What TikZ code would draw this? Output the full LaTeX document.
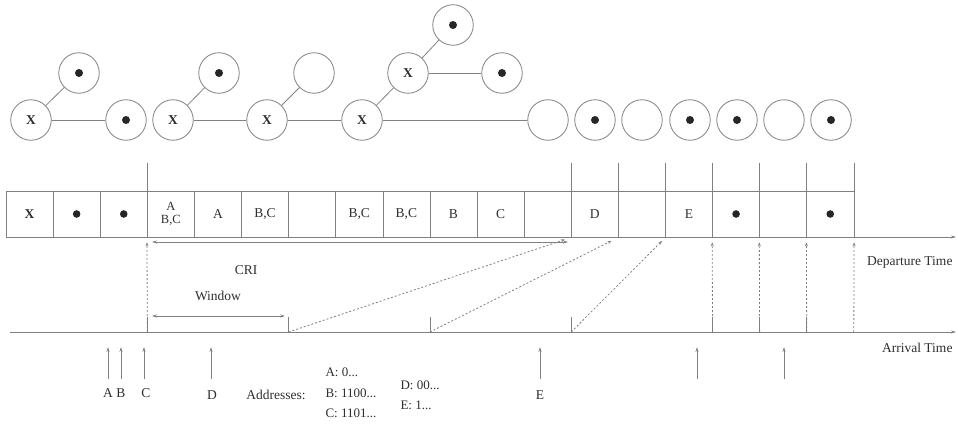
\documentclass[tikz,border=0pt]{standalone}
\usepackage{fontspec}
\setmainfont{Liberation Serif}
\usetikzlibrary{arrows.meta}
\definecolor{ln}{gray}{0.5}
\definecolor{ink}{gray}{0.18}
\begin{document}
\begin{tikzpicture}[x=1pt,y=-1pt,
  every node/.style={text=ink, font=\fontsize{13.5}{15}\selectfont},
  nd/.style={circle, draw=ln, line width=0.8pt, minimum size=40.5pt, inner sep=0pt},
  dotnd/.style={nd, path picture={\fill[black!85] (path picture bounding box.center) circle (4pt);}},
  xnd/.style={nd, font=\fontsize{13.5}{15}\selectfont\bfseries},
  edge/.style={draw=ln, line width=0.8pt},
  cell/.style={draw=ln, line width=0.6pt, minimum width=47.1pt, minimum height=46pt, inner sep=0pt},
  celldot/.style={cell, path picture={\fill[black!85] (path picture bounding box.center) circle (3.8pt);}},
  addr/.style={anchor=west, font=\fontsize{13}{15}\selectfont},
  axis/.style={draw=ln, line width=0.7pt, -{Stealth[length=5pt,width=3pt]}},
  tick/.style={draw=ln, line width=0.7pt},
  dotarrow/.style={draw=ln, line width=0.8pt, dash pattern=on 2pt off 2pt, -{Stealth[length=4pt,width=3pt]}, shorten >=5pt},
  solidarrow/.style={draw=ln, line width=0.8pt, -{Stealth[length=5pt,width=3pt]}},
  span/.style={draw=ln, line width=0.8pt, {Stealth[length=5pt,width=3pt]}-{Stealth[length=5pt,width=3pt]}},
]
\useasboundingbox (0,0) rectangle (958,423);

% ---------- trees of the splitting process ----------
\node[xnd]   (t1x)  at (31,120)  {X};
\node[dotnd] (t1a)  at (79,73)   {};
\node[dotnd] (t1b)  at (126,120) {};
\draw[edge] (t1x) -- (t1a);
\draw[edge] (t1x) -- (t1b);

\node[xnd]   (t2x)  at (173,120) {X};
\node[dotnd] (t2a)  at (219,73)  {};
\node[xnd]   (t3x)  at (267,120) {X};
\node[nd]    (t3a)  at (314,73)  {};
\node[xnd]   (t4x)  at (362,120) {X};
\node[xnd]   (t5x)  at (408,73)  {X};
\node[dotnd] (t5a)  at (453,25)  {};
\node[dotnd] (t5b)  at (502,73)  {};
\draw[edge] (t2x) -- (t2a);
\draw[edge] (t2x) -- (t3x);
\draw[edge] (t3x) -- (t3a);
\draw[edge] (t3x) -- (t4x);
\draw[edge] (t4x) -- (t5x);
\draw[edge] (t5x) -- (t5a);
\draw[edge] (t5x) -- (t5b);

\node[nd]    (s1) at (548,120) {};
\node[dotnd] (s2) at (595,120) {};
\node[nd]    (s3) at (642,120) {};
\node[dotnd] (s4) at (690,120) {};
\node[dotnd] (s5) at (737,120) {};
\node[nd]    (s6) at (784,120) {};
\node[dotnd] (s7) at (831,120) {};
\draw[edge] (t4x) -- (s1);

% ---------- slot sequence ----------
\node[cell, font=\fontsize{13.5}{15}\selectfont\bfseries] (c1) at (29.55,214) {X};
\node[celldot] (c2)  at (76.65,214)  {};
\node[celldot] (c3)  at (123.75,214) {};
\node[cell, align=center, font=\fontsize{12.5}{12.5}\selectfont] (c4) at (170.85,214) {A\\B,C};
\node[cell] (c5)  at (217.95,214) {A};
\node[cell] (c6)  at (265.05,214) {B,C};
\node[cell] (c7)  at (312.15,214) {};
\node[cell] (c8)  at (359.25,214) {B,C};
\node[cell] (c9)  at (406.35,214) {B,C};
\node[cell] (c10) at (453.45,214) {B};
\node[cell] (c11) at (500.55,214) {C};
\node[cell] (c12) at (547.65,214) {};
\node[cell] (c13) at (594.75,214) {D};
\node[cell] (c14) at (641.85,214) {};
\node[cell] (c15) at (688.95,214) {E};
\node[celldot] (c16) at (736.05,214) {};
\node[cell] (c17) at (783.15,214) {};
\node[celldot] (c18) at (830.25,214) {};

% frame boundaries above the slots
\foreach \c in {c4,c13,c14,c15,c16,c17,c18}
  \draw[tick] (\c.north west) -- ++(0,-28);
\draw[tick] (c18.north east) -- ++(0,-28);

% ---------- time axes ----------
\coordinate (dep0) at (6,237);
\coordinate (dep1) at (956,237);
\draw[axis] (dep0) -- (dep1);
\node[anchor=east] (deplab) at (956,262) {Departure Time};

\coordinate (arr0) at (10,332);
\coordinate (arr1) at (956,332);
\draw[axis] (arr0) -- (arr1);
\node[anchor=east] (arrlab) at (956,348) {Arrival Time};

% window boundaries on the arrival axis
\coordinate (w1) at (147.3,332);
\coordinate (w2) at (288.6,332);
\coordinate (w3) at (429.9,332);
\coordinate (w4) at (571.2,332);
\coordinate (w5) at (712.5,332);
\coordinate (w6) at (759.6,332);
\coordinate (w7) at (806.7,332);
\coordinate (w8) at (853.8,332);
\foreach \w in {w1,w2,w3,w4,w5,w6,w7}
  \draw[tick] (\w) -- ++(0,-15);

% mapping of window starts to departure times
\draw[dotarrow] (w1) -- (c4.south west);
\draw[dotarrow, shorten >=7pt] (w2) -- (c12.south east);
\draw[dotarrow, shorten >=8pt] (w3) -- (c13.south east);
\draw[dotarrow] (w4) -- (c14.south east);
\draw[dotarrow] (w5) -- (c16.south west);
\draw[dotarrow] (w6) -- (c17.south west);
\draw[dotarrow] (w7) -- (c18.south west);
\draw[dotarrow] (w8) -- (c18.south east);

% collision resolution interval and window
\coordinate (cri0) at (152,242);
\coordinate (cri1) at (568,242);
\draw[span] (cri0) -- (cri1);
\node (crilab) at (246,270) {CRI};

\coordinate (win0) at (152,316);
\coordinate (win1) at (285,316);
\draw[span] (win0) -- (win1);
\node (winlab) at (218,296) {Window};

% ---------- packet arrivals ----------
\foreach \n/\x in {pa/108,pb/121,pc/144,pd/211,pe/540,pf/697,pg/784}{
  \coordinate (\n0) at (\x,379);
  \coordinate (\n1) at (\x,347);
  \draw[solidarrow] (\n0) -- (\n1);
}
\node (la) at (108,393) {A};
\node (lb) at (121,393) {B};
\node (lc) at (146,393) {C};
\node (ld) at (212,395) {D};
\node (le) at (540,395) {E};

% addresses
\node (addr) at (276,395) {Addresses:};
\node[addr] (ada) at (322,372) {A: 0...};
\node[addr] (adb) at (322,393) {B: 1100...};
\node[addr] (adc) at (322,413) {C: 1101...};
\node[addr] (add) at (397,385) {D: 00...};
\node[addr] (ade) at (397,405) {E: 1...};
\end{tikzpicture}
\end{document}
